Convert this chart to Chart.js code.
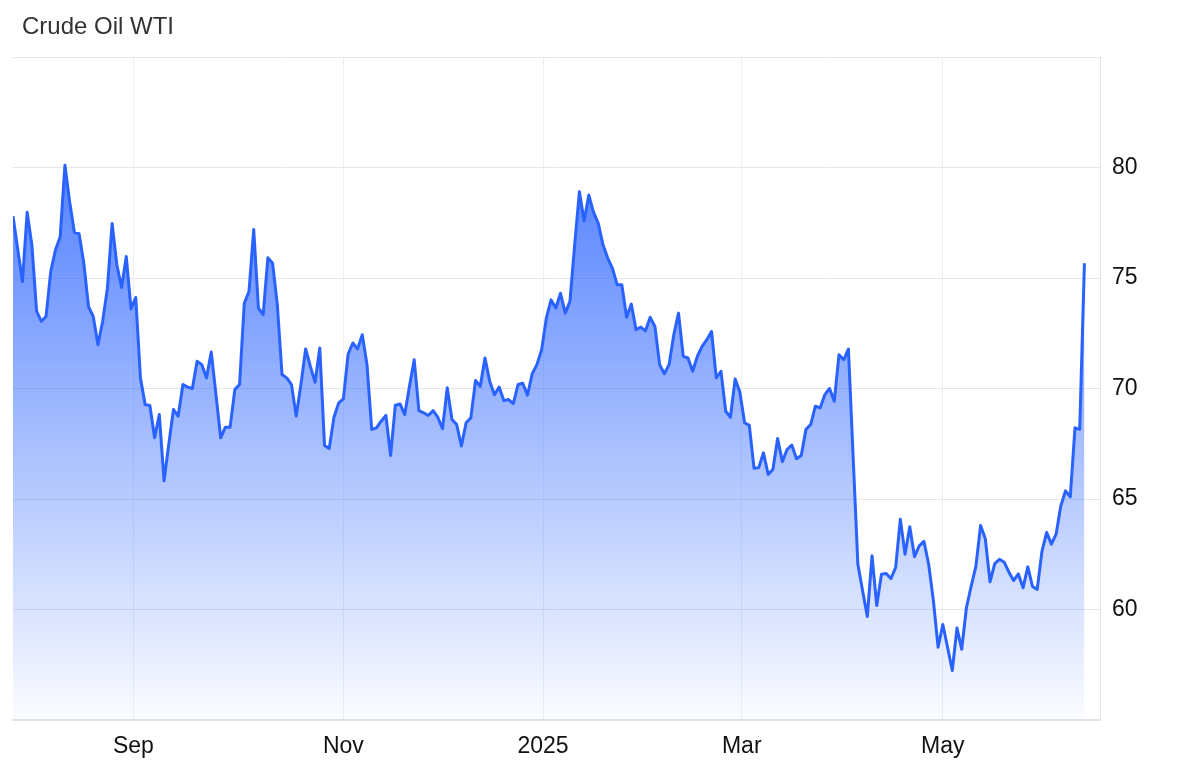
<!DOCTYPE html>
<html>
<head>
<meta charset="utf-8">
<title>Crude Oil WTI</title>
<script src="https://cdn.jsdelivr.net/npm/chart.js@4.4.1/dist/chart.umd.min.js"></script>
<style>
  body { margin: 0; background: #fff; font-family: "Liberation Sans", Arial, Helvetica, sans-serif; }
  #wrap { position: relative; width: 1200px; height: 782px; }
  #title { position: absolute; left: 22px; top: 14px; font-size: 24px; line-height: 24px; color: #333; }
  canvas { position: absolute; left: 0; top: 0; }
</style>
</head>
<body>
<div id="wrap">
  <canvas id="oilChart" width="1200" height="782"></canvas>
  <div id="title">Crude Oil WTI</div>
</div>
<script>
// daily closes (late Jul 2024 -> mid Jun 2025)
const prices = [
  77.80, 76.30, 74.84, 77.97, 76.50, 73.50, 73.04, 73.26, 75.30, 76.27,
  76.87, 80.10, 78.45, 77.07, 77.00, 75.67, 73.70, 73.26, 71.98, 73.04,
  74.54, 77.47, 75.60, 74.57, 75.97, 73.60, 74.12, 70.48, 69.27, 69.23,
  67.77, 68.82, 65.82, 67.47, 69.05, 68.75, 70.18, 70.06, 70.00, 71.23,
  71.08, 70.48, 71.65, 69.72, 67.77, 68.25, 68.25, 69.95, 70.18, 73.86,
  74.39, 77.20, 73.64, 73.34, 75.92, 75.67, 73.79, 70.63, 70.48, 70.18,
  68.75, 70.18, 71.79, 71.00, 70.28, 71.83, 67.42, 67.29, 68.70, 69.35,
  69.53, 71.56, 72.06, 71.79, 72.43, 71.08, 68.15, 68.22, 68.52, 68.78,
  66.97, 69.24, 69.30, 68.82, 70.10, 71.30, 69.00, 68.90, 68.78, 69.00,
  68.70, 68.18, 70.03, 68.60, 68.37, 67.40, 68.45, 68.67, 70.36, 70.10,
  71.38, 70.33, 69.72, 70.07, 69.45, 69.50, 69.32, 70.18, 70.24, 69.70,
  70.66, 71.08, 71.76, 73.19, 74.01, 73.64, 74.31, 73.41, 73.94, 76.50,
  78.90, 77.58, 78.75, 77.97, 77.47, 76.50, 75.90, 75.44, 74.69, 74.69,
  73.22, 73.82, 72.66, 72.78, 72.61, 73.22, 72.81, 71.08, 70.67, 71.08,
  72.43, 73.41, 71.46, 71.38, 70.78, 71.46, 71.91, 72.21, 72.58, 70.48,
  70.78, 68.97, 68.70, 70.43, 69.83, 68.45, 68.33, 66.39, 66.42, 67.09,
  66.11, 66.34, 67.74, 66.69, 67.24, 67.44, 66.82, 66.97, 68.15, 68.37,
  69.20, 69.12, 69.72, 70.00, 69.42, 71.53, 71.30, 71.78, 66.90, 62.05,
  60.85, 59.68, 62.43, 60.18, 61.60, 61.63, 61.40, 61.90, 64.08, 62.50,
  63.74, 62.39, 62.88, 63.08, 62.05, 60.40, 58.29, 59.32, 58.29, 57.24,
  59.16, 58.20, 60.08, 61.05, 61.95, 63.80, 63.20, 61.25, 62.08, 62.27,
  62.14, 61.69, 61.31, 61.61, 60.98, 61.93, 61.04, 60.91, 62.63, 63.49,
  62.96, 63.41, 64.69, 65.37, 65.10, 68.22, 68.15, 75.67
];

// where the month labels sit, in trading-day positions
const tickPos = [25.5, 70, 112.3, 154.4, 197];
const tickLabels = ['Sep', 'Nov', '2025', 'Mar', 'May'];

// price axis
const yMin = 55;
const yMax = 85;
const yStep = 5;

const lineBlue = '#2962ff';
const tickFont = { family: '"Liberation Sans", Arial, Helvetica, sans-serif', size: 23 };

function fillGradient(context) {
  const chart = context.chart;
  const area = chart.chartArea;
  if (!area) return 'rgba(41,98,255,0.4)';
  const g = chart.ctx.createLinearGradient(0, area.top, 0, area.bottom);
  g.addColorStop(0, 'rgba(41,98,255,0.95)');
  g.addColorStop(1, 'rgba(41,98,255,0.02)');
  return g;
}

const ctx = document.getElementById('oilChart').getContext('2d');
new Chart(ctx, {
  type: 'line',
  data: {
    datasets: [{
      label: 'Crude Oil WTI',
      data: prices.map((p, i) => ({ x: i, y: p })),
      borderColor: lineBlue,
      borderWidth: 3,
      borderJoinStyle: 'round',
      backgroundColor: fillGradient,
      fill: 'start',
      pointRadius: 0,
      tension: 0
    }]
  },
  options: {
    responsive: false,
    animation: false,
    layout: { padding: { left: 13, top: 57, right: 0, bottom: 0 } },
    plugins: {
      legend: { display: false },
      tooltip: { enabled: false }
    },
    scales: {
      x: {
        type: 'linear',
        min: 0,
        max: 230.3,
        afterBuildTicks: (scale) => {
          scale.ticks = tickPos.map(v => ({ value: v }));
        },
        afterFit: (scale) => { scale.height = 62; },
        ticks: {
          autoSkip: false,
          maxRotation: 0,
          padding: 13,
          color: '#111',
          font: tickFont,
          callback: (v) => {
            const k = tickPos.indexOf(v);
            return k >= 0 ? tickLabels[k] : '';
          }
        },
        grid: { color: '#ebf0f7', lineWidth: 1, drawTicks: false },
        border: { display: true, color: '#e3e3e3', width: 2 }
      },
      y: {
        position: 'right',
        min: yMin,
        max: yMax,
        afterFit: (scale) => { scale.width = 100; },
        ticks: {
          stepSize: yStep,
          padding: 12,
          color: '#111',
          font: tickFont,
          callback: (v) => (v === yMin || v === yMax) ? '' : v
        },
        grid: { color: '#e6e6e6', lineWidth: 1, drawTicks: false },
        border: { display: true, color: '#e3e3e3', width: 1 }
      }
    }
  }
});
</script>
</body>
</html>
